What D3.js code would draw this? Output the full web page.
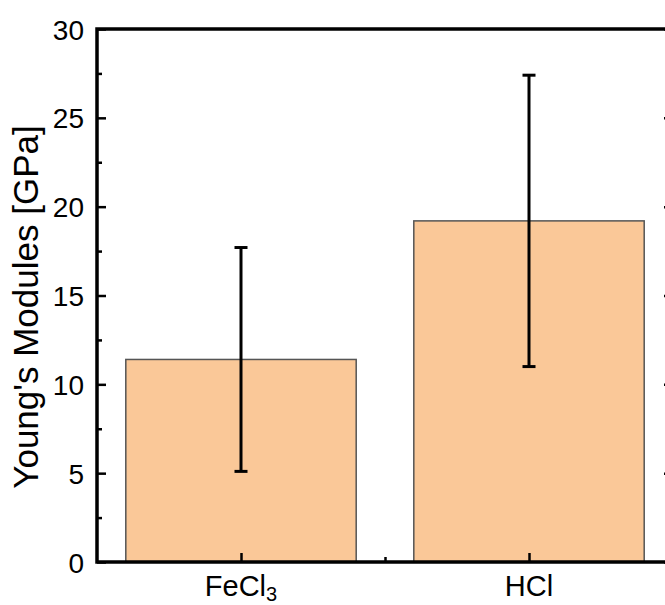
<!DOCTYPE html>
<html>
<head>
<meta charset="utf-8">
<script src="https://cdn.jsdelivr.net/npm/d3@7"></script>
<style>
  html, body { margin: 0; padding: 0; background: #fff; }
  svg { display: block; }
  text { font-family: "Liberation Sans", Arial, sans-serif; fill: #000; }
</style>
</head>
<body>
<svg id="chart" width="665" height="605"></svg>
<script>
// ---- data ----
const categories = ["FeCl3", "HCl"];
const values = [11.4, 19.2];
const errLow = [5.1, 11.0];
const errHigh = [17.7, 27.4];
const yTicks = [0, 5, 10, 15, 20, 25, 30];
const yMinorTicks = [2.5, 7.5, 12.5, 17.5, 22.5, 27.5];
const xMinorTicks = [1.5];
const yLabel = "Young's Modules [GPa]";

// ---- layout ----
const svg = d3.select("#chart");
const mLeft = 97, mRight = 673, mTop = 29, mBottom = 562;

const x = d3.scaleLinear().domain([0.5, 2.5]).range([mLeft, mRight]);
const y = d3.scaleLinear().domain([0, 30]).range([mBottom, mTop]);
const barW = (x(2) - x(1)) * 0.8;

const barColor = "#FAC898";

// bars
svg.append("g").selectAll("rect")
  .data(values)
  .join("rect")
  .attr("x", (d, i) => x(i + 1) - barW / 2)
  .attr("y", d => y(d))
  .attr("width", barW)
  .attr("height", d => y(0) - y(d))
  .attr("fill", barColor)
  .attr("stroke", "#555")
  .attr("stroke-width", 1.5);

// error bars
const eb = svg.append("g").attr("stroke", "#000").attr("stroke-width", 3);
values.forEach((v, i) => {
  const cx = x(i + 1);
  eb.append("line").attr("x1", cx).attr("x2", cx).attr("y1", y(errLow[i])).attr("y2", y(errHigh[i]));
  [errLow[i], errHigh[i]].forEach(e => {
    eb.append("line").attr("x1", cx - 6.5).attr("x2", cx + 6.5).attr("y1", y(e)).attr("y2", y(e));
  });
});

// axes
function styleAxis(g) {
  g.select(".domain").remove();
  g.selectAll(".tick line").attr("stroke", "#000").attr("stroke-width", 2.5);
}

// left axis: labels + major ticks inward
const yAxisL = svg.append("g").attr("transform", `translate(${mLeft},0)`)
  .call(d3.axisLeft(y).tickValues(yTicks).tickSize(-9).tickPadding(14).tickFormat(d3.format("d")));
styleAxis(yAxisL);
yAxisL.selectAll(".tick text").attr("font-size", 28).attr("dy", "0.36em").attr("x", -13);

const yAxisLMinor = svg.append("g").attr("transform", `translate(${mLeft},0)`)
  .call(d3.axisLeft(y).tickValues(yMinorTicks).tickSize(-5).tickFormat(""));
styleAxis(yAxisLMinor);

// right axis: ticks inward
const yAxisR = svg.append("g").attr("transform", `translate(${mRight},0)`)
  .call(d3.axisRight(y).tickValues(yTicks).tickSize(-9).tickFormat(""));
styleAxis(yAxisR);

// bottom axis
const xAxis = svg.append("g").attr("transform", `translate(0,${mBottom})`)
  .call(d3.axisBottom(x).tickValues([1, 2]).tickSize(-9).tickFormat(""));
styleAxis(xAxis);
const xAxisMinor = svg.append("g").attr("transform", `translate(0,${mBottom})`)
  .call(d3.axisBottom(x).tickValues(xMinorTicks).tickSize(-5).tickFormat(""));
styleAxis(xAxisMinor);

// x category labels (with subscript)
categories.forEach((c, i) => {
  const t = svg.append("text")
    .attr("x", x(i + 1))
    .attr("y", 596)
    .attr("text-anchor", "middle")
    .attr("font-size", 29);
  const m = c.match(/^(.*?)(\d+)$/);
  if (m) {
    t.append("tspan").text(m[1]);
    t.append("tspan").attr("font-size", 20).attr("dy", 5).text(m[2]);
  } else {
    t.text(c);
  }
});

// frame
svg.append("rect")
  .attr("x", mLeft).attr("y", mTop)
  .attr("width", mRight - mLeft).attr("height", mBottom - mTop)
  .attr("fill", "none").attr("stroke", "#000").attr("stroke-width", 3.5);

// y label
svg.append("text")
  .attr("transform", `translate(38,307) rotate(-90)`)
  .attr("text-anchor", "middle")
  .attr("font-size", 35)
  .text(yLabel);
</script>
</body>
</html>
